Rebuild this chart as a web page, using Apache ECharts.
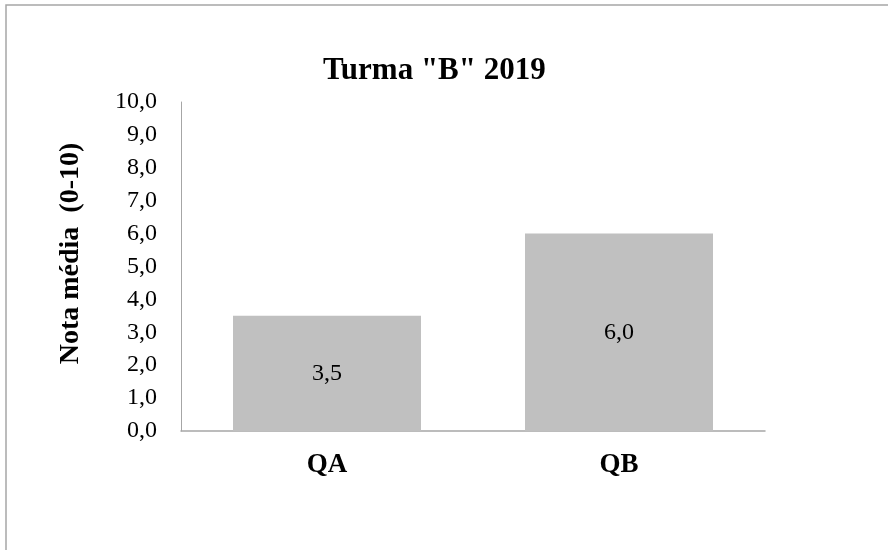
<!DOCTYPE html>
<html>
<head>
<meta charset="utf-8">
<script src="https://cdn.jsdelivr.net/npm/echarts@6/dist/echarts.min.js"></script>
<style>
html,body{margin:0;padding:0;background:#fff;}
#c{width:888px;height:550px;}
</style>
</head>
<body>
<div id="c"></div>
<script>
const titleText = 'Turma "B" 2019';
const yAxisName = 'Nota média  (0-10)';
const categories = ['QA', 'QB'];
const values = [3.5, 6.0];
const yMin = 0, yMax = 10, yStep = 1;

const serif = '"Liberation Serif", "Times New Roman", serif';
const fmt = v => v.toFixed(1).replace('.', ',');

const chart = echarts.init(document.getElementById('c'), null, {renderer: 'canvas'});
chart.setOption({
  animation: false,
  backgroundColor: '#ffffff',
  title: {
    text: titleText,
    left: 318,
    top: 50,
    textStyle: {fontFamily: serif, fontWeight: 'bold', fontSize: 31, color: '#000'}
  },
  graphic: [{
    type: 'rect',
    shape: {x: 6, y: 5, width: 1000, height: 1000},
    style: {fill: 'none', stroke: '#a6a6a6', lineWidth: 1.5},
    silent: true
  }],
  grid: {left: 181, right: 123, top: 102, bottom: 119, containLabel: false},
  xAxis: {
    type: 'category',
    data: categories,
    axisLine: {lineStyle: {color: '#a6a6a6', width: 1.5}},
    axisTick: {show: false},
    axisLabel: {fontFamily: serif, fontWeight: 'bold', fontSize: 27, color: '#000', margin: 21}
  },
  yAxis: {
    type: 'value',
    min: yMin, max: yMax, interval: yStep,
    name: yAxisName,
    nameLocation: 'middle',
    nameGap: 96,
    nameTextStyle: {fontFamily: serif, fontWeight: 'bold', fontSize: 28, color: '#000', padding: [0, 0, 0, 26]},
    axisLine: {show: true, lineStyle: {color: '#a6a6a6', width: 1}},
    axisTick: {show: false},
    splitLine: {show: false},
    axisLabel: {fontFamily: serif, fontSize: 24, color: '#000', margin: 24, formatter: v => fmt(v)}
  },
  series: [{
    type: 'bar',
    data: values,
    barWidth: 188,
    itemStyle: {color: '#c0c0c0'},
    label: {
      show: true,
      position: 'inside',
      fontFamily: serif,
      fontSize: 24,
      color: '#000',
      formatter: p => fmt(p.value)
    }
  }]
});
</script>
</body>
</html>
